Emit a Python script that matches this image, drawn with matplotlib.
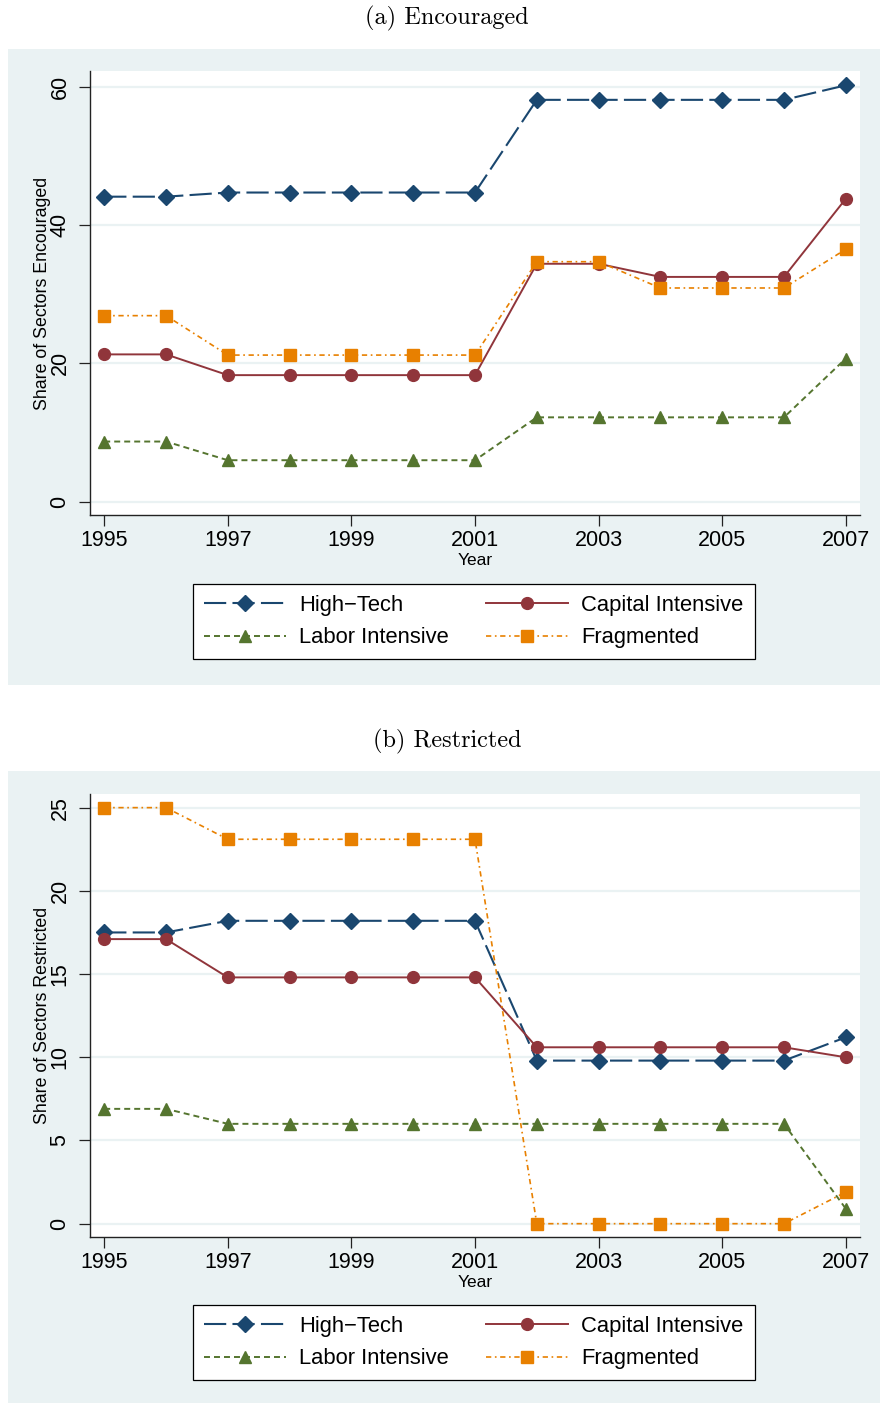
import matplotlib
matplotlib.use("Agg")
import matplotlib.pyplot as plt
from matplotlib.patches import Rectangle

plt.rcParams["font.family"] = ["Liberation Sans", "DejaVu Sans"]
plt.rcParams["lines.scale_dashes"] = False

# ---- data -------------------------------------------------------------
years = list(range(1995, 2008))
xticks = [1995, 1997, 1999, 2001, 2003, 2005, 2007]

series_names = ["High\u2212Tech", "Capital Intensive", "Labor Intensive", "Fragmented"]

enc_high = [44.1, 44.1, 44.7, 44.7, 44.7, 44.7, 44.7, 58.1, 58.1, 58.1, 58.1, 58.1, 60.2]
enc_cap = [21.3, 21.3, 18.3, 18.3, 18.3, 18.3, 18.3, 34.4, 34.4, 32.5, 32.5, 32.5, 43.8]
enc_lab = [8.7, 8.7, 6.0, 6.0, 6.0, 6.0, 6.0, 12.2, 12.2, 12.2, 12.2, 12.2, 20.7]
enc_frag = [26.9, 26.9, 21.2, 21.2, 21.2, 21.2, 21.2, 34.7, 34.7, 30.9, 30.9, 30.9, 36.5]

res_high = [17.5, 17.5, 18.2, 18.2, 18.2, 18.2, 18.2, 9.8, 9.8, 9.8, 9.8, 9.8, 11.2]
res_cap = [17.1, 17.1, 14.8, 14.8, 14.8, 14.8, 14.8, 10.6, 10.6, 10.6, 10.6, 10.6, 10.0]
res_lab = [6.9, 6.9, 6.0, 6.0, 6.0, 6.0, 6.0, 6.0, 6.0, 6.0, 6.0, 6.0, 0.9]
res_frag = [25.0, 25.0, 23.1, 23.1, 23.1, 23.1, 23.1, 0.0, 0.0, 0.0, 0.0, 0.0, 1.9]

enc_yticks = [0, 20, 40, 60]
res_yticks = [0, 5, 10, 15, 20, 25]

# ---- styles -----------------------------------------------------------
BG = "#eaf2f3"
styles = [
    dict(color="#1a476f", marker="D", ms=7.8, lw=1.5, dashes=(16, 4.5)),
    dict(color="#90353b", marker="o", ms=8.5, lw=1.4, dashes=()),
    dict(color="#55752f", marker="^", ms=9.0, lw=1.4, dashes=(4.3, 2.9)),
    dict(color="#e88000", marker="s", ms=8.0, lw=1.2, dashes=(3.8, 2.6, 1.2, 2.6)),
]

W, H = 880, 1403
fig = plt.figure(figsize=(W / 100, H / 100), dpi=100)


def fig_rect(x0, y0, x1, y1):
    return [x0 / W, 1 - y1 / H, (x1 - x0) / W, (y1 - y0) / H]


def panel(box, ax_box, title, title_y, data, yticks, ylim, ylabel, legend_top):
    bx0, by0, bx1, by1 = box
    fig.patches.append(Rectangle((bx0 / W, 1 - by1 / H), (bx1 - bx0) / W, (by1 - by0) / H,
                                 transform=fig.transFigure, facecolor=BG,
                                 edgecolor="none", zorder=-10))
    fig.text(447 / W, 1 - title_y / H, title, family="cmr10", fontsize=17.5,
             ha="center", va="center")

    ax = fig.add_axes(fig_rect(*ax_box))
    ax.set_zorder(1)
    ax.set_facecolor("white")
    handles = []
    for vals, name, st in zip(data, series_names, styles):
        ln, = ax.plot(years, vals, color=st["color"], lw=st["lw"], marker=st["marker"],
                      ms=st["ms"], mec=st["color"], mfc=st["color"], label=name,
                      zorder=3)
        if st["dashes"]:
            ln.set_dashes(st["dashes"])
        handles.append(ln)

    ax.set_xlim(1994.77, 2007.23)
    ax.set_ylim(*ylim)
    ax.set_xticks(xticks)
    ax.set_yticks(yticks)
    ax.yaxis.grid(True, color=BG, lw=1.6, zorder=1)
    ax.set_axisbelow(True)
    for s in ("top", "right"):
        ax.spines[s].set_visible(False)
    for s in ("left", "bottom"):
        ax.spines[s].set_color("#222222")
        ax.spines[s].set_linewidth(1.0)
    ax.tick_params(axis="x", length=8, width=0.9, color="#222222", labelsize=15.5, pad=3)
    ax.tick_params(axis="y", length=8, width=0.9, color="#222222", labelsize=15.5, pad=6,
                   labelrotation=90)
    for lab in ax.get_yticklabels():
        lab.set_va("center")
    ax.set_ylabel(ylabel, fontsize=12.8)
    ax.yaxis.set_label_coords(-0.051, 0.5)
    ax.set_xlabel("Year", fontsize=12.5)
    ax.xaxis.set_label_coords(0.5, -0.085)

    order = [0, 2, 1, 3]
    leg = ax.legend([handles[i] for i in order], [series_names[i] for i in order],
                    ncol=2, loc="upper left", bbox_to_anchor=(193 / W, 1 - legend_top / H),
                    bbox_transform=fig.transFigure, borderaxespad=0, fontsize=15.8,
                    numpoints=1, handlelength=3.75, handletextpad=0.6,
                    columnspacing=1.67, labelspacing=0.52, borderpad=0.5,
                    fancybox=False, framealpha=1, edgecolor="black")
    leg.get_frame().set_linewidth(0.9)
    return ax


panel((8, 49, 880, 685), (90, 71, 860, 515), "(a) Encouraged", 18,
      [enc_high, enc_cap, enc_lab, enc_frag], enc_yticks, (-1.92, 62.27),
      "Share of Sectors Encouraged", 584)

panel((8, 771, 880, 1403), (90, 794, 860, 1237), "(b) Restricted", 741,
      [res_high, res_cap, res_lab, res_frag], res_yticks, (-0.8, 25.82),
      "Share of Sectors Restricted", 1305)

fig.savefig("out.png", dpi=100, facecolor="white")
